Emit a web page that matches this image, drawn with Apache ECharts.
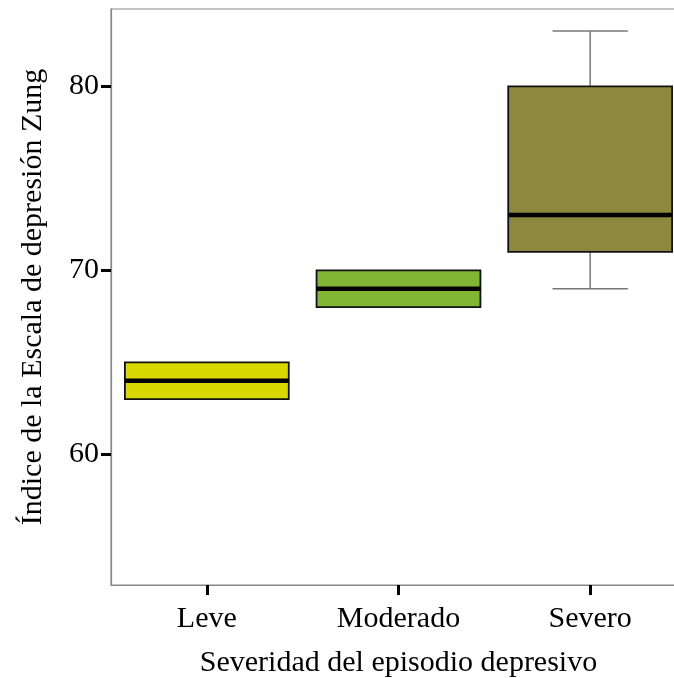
<!DOCTYPE html>
<html>
<head>
<meta charset="utf-8">
<script src="https://cdn.jsdelivr.net/npm/echarts@6/dist/echarts.min.js"></script>
<style>
html,body{margin:0;padding:0;background:#fff;}
#chart{width:674px;height:678px;}
</style>
</head>
<body>
<div id="chart"></div>
<script>
const categories = ['Leve', 'Moderado', 'Severo'];
const whiskerLow = [63, 68, 69];
const q1Values = [63, 68, 71];
const medianValues = [64, 69, 73];
const q3Values = [65, 70, 80];
const whiskerHigh = [65, 70, 83];
const yTicks = [60, 70, 80];
const boxColors = ['#D9D800', '#80B634', '#8E883F'];

const data = categories.map((c, i) => [i, whiskerLow[i], q1Values[i], medianValues[i], q3Values[i], whiskerHigh[i]]);

const font = 'Liberation Serif';
const chart = echarts.init(document.getElementById('chart'));

function renderItem(params, api) {
  const x = api.value(0);
  const lo = api.value(1), q1 = api.value(2), md = api.value(3), q3 = api.value(4), hi = api.value(5);
  const bandW = api.size([1, 0])[0];
  const boxW = bandW * 0.855;
  const capW = boxW * 0.46;
  const pLo = api.coord([x, lo]);
  const pQ1 = api.coord([x, q1]);
  const pMd = api.coord([x, md]);
  const pQ3 = api.coord([x, q3]);
  const pHi = api.coord([x, hi]);
  const cx = pMd[0];
  const wStyle = { stroke: '#777777', lineWidth: 1.5 };
  const children = [];
  if (hi > q3) {
    children.push({ type: 'line', shape: { x1: cx, y1: pHi[1], x2: cx, y2: pQ3[1] }, style: wStyle });
    children.push({ type: 'line', shape: { x1: cx - capW / 2, y1: pHi[1], x2: cx + capW / 2, y2: pHi[1] }, style: wStyle });
  }
  if (lo < q1) {
    children.push({ type: 'line', shape: { x1: cx, y1: pLo[1], x2: cx, y2: pQ1[1] }, style: wStyle });
    children.push({ type: 'line', shape: { x1: cx - capW / 2, y1: pLo[1], x2: cx + capW / 2, y2: pLo[1] }, style: wStyle });
  }
  children.push({
    type: 'rect',
    shape: { x: cx - boxW / 2, y: pQ3[1], width: boxW, height: pQ1[1] - pQ3[1] },
    style: { fill: boxColors[params.dataIndex], stroke: '#111111', lineWidth: 1.8 }
  });
  children.push({
    type: 'line',
    shape: { x1: cx - boxW / 2, y1: pMd[1], x2: cx + boxW / 2, y2: pMd[1] },
    style: { stroke: '#000000', lineWidth: 4.5 }
  });
  return { type: 'group', children: children };
}

chart.setOption({
  animation: false,
  backgroundColor: '#ffffff',
  grid: {
    left: 111, top: 9, width: 575, height: 576,
    outerBoundsMode: 'none',
    containLabel: false,
    show: true, borderColor: '#888888', borderWidth: 1.2, backgroundColor: 'transparent'
  },
  xAxis: {
    type: 'category',
    data: categories,
    boundaryGap: true,
    name: 'Severidad del episodio depresivo',
    nameLocation: 'middle',
    nameGap: 63,
    nameTextStyle: { fontFamily: font, fontSize: 30, color: '#000' },
    axisLine: { show: true, lineStyle: { color: '#888888', width: 1.2 } },
    axisTick: { show: true, alignWithLabel: true, length: 10, lineStyle: { color: '#000', width: 3 } },
    axisLabel: { fontFamily: font, fontSize: 30, color: '#000', margin: 19 },
    splitLine: { show: false }
  },
  yAxis: {
    type: 'value',
    min: 52.9,
    max: 84.2,
    name: 'Índice de la Escala de depresión Zung',
    nameLocation: 'middle',
    nameGap: 63,
    nameRotate: 90,
    nameTextStyle: { fontFamily: font, fontSize: 30, color: '#000' },
    axisLine: { show: true, lineStyle: { color: '#888888', width: 1.2 } },
    axisTick: { show: true, length: 10, customValues: yTicks, lineStyle: { color: '#000', width: 3 } },
    axisLabel: { fontFamily: font, fontSize: 30, color: '#000', margin: 12, customValues: yTicks },
    splitLine: { show: false }
  },
  series: [{
    type: 'custom',
    renderItem: renderItem,
    encode: { x: 0, y: [1, 2, 3, 4, 5] },
    data: data,
    clip: false
  }]
});
</script>
</body>
</html>
